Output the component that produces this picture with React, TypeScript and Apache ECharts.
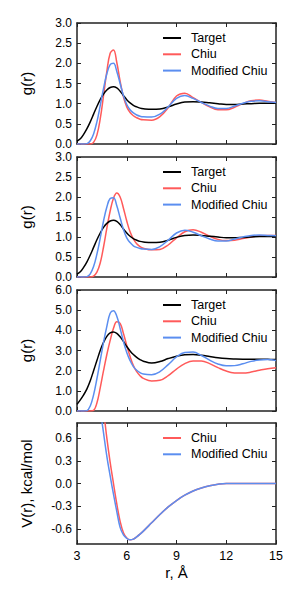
import React, { useEffect, useRef } from "react";
import * as echarts from "echarts";

// r grid for g(r) panels (Å)
const R_G = [3.0, 3.2, 3.4, 3.6, 3.8, 4.0, 4.2, 4.4, 4.6, 4.8, 5.0, 5.2, 5.4, 5.6, 5.8, 6.0, 6.2, 6.4, 6.6, 6.8, 7.0, 7.5, 8.0, 8.5, 9.0, 9.5, 10.0, 10.5, 11.0, 11.5, 12.0, 12.5, 13.0, 13.5, 14.0, 14.5, 15.0];

// Panel 1
const TARGET_1 = [0.07, 0.13, 0.24, 0.38, 0.55, 0.74, 0.93, 1.1, 1.24, 1.34, 1.4, 1.42, 1.39, 1.31, 1.2, 1.1, 1.02, 0.96, 0.92, 0.89, 0.875, 0.86, 0.87, 0.92, 0.99, 1.04, 1.05, 1.04, 1.02, 1.0, 0.98, 0.98, 0.99, 1.0, 1.01, 1.01, 1.01];
const CHIU_1 = [0, 0, 0, 0, 0, 0.04, 0.22, 0.62, 1.2, 1.8, 2.25, 2.33, 2.02, 1.56, 1.17, 0.92, 0.78, 0.7, 0.65, 0.615, 0.6, 0.59, 0.68, 0.9, 1.19, 1.26, 1.15, 1.03, 0.92, 0.85, 0.85, 0.91, 1.0, 1.07, 1.09, 1.06, 1.03];
const MOD_1 = [0, 0, 0, 0.01, 0.08, 0.25, 0.55, 0.95, 1.38, 1.74, 1.97, 2.0, 1.8, 1.5, 1.2, 0.98, 0.85, 0.77, 0.72, 0.69, 0.675, 0.67, 0.74, 0.92, 1.13, 1.2, 1.13, 1.03, 0.94, 0.88, 0.88, 0.94, 1.01, 1.06, 1.07, 1.05, 1.03];

// Panel 2
const TARGET_2 = [0.07, 0.13, 0.24, 0.38, 0.55, 0.74, 0.93, 1.1, 1.24, 1.34, 1.4, 1.42, 1.39, 1.31, 1.2, 1.1, 1.02, 0.96, 0.92, 0.89, 0.875, 0.86, 0.87, 0.92, 0.99, 1.04, 1.05, 1.04, 1.02, 1.0, 0.98, 0.98, 0.99, 1.0, 1.01, 1.01, 1.01];
const CHIU_2 = [0, 0, 0, 0, 0, 0.02, 0.12, 0.35, 0.75, 1.22, 1.65, 1.97, 2.1, 2.0, 1.72, 1.4, 1.13, 0.95, 0.83, 0.76, 0.72, 0.68, 0.69, 0.8, 0.98, 1.13, 1.18, 1.12, 1.02, 0.94, 0.91, 0.92, 0.96, 1.0, 1.03, 1.04, 1.04];
const MOD_2 = [0, 0, 0, 0.01, 0.08, 0.26, 0.57, 0.97, 1.4, 1.75, 1.96, 1.98, 1.78, 1.48, 1.19, 0.98, 0.86, 0.78, 0.74, 0.715, 0.7, 0.69, 0.76, 0.92, 1.1, 1.17, 1.12, 1.03, 0.95, 0.9, 0.9, 0.95, 1.0, 1.04, 1.05, 1.04, 1.03];

// Panel 3
const TARGET_3 = [0.33, 0.55, 0.8, 1.1, 1.5, 2.0, 2.5, 3.0, 3.4, 3.7, 3.87, 3.92, 3.85, 3.68, 3.45, 3.2, 2.98, 2.8, 2.66, 2.55, 2.47, 2.38, 2.45, 2.6, 2.72, 2.79, 2.8, 2.76, 2.7, 2.64, 2.6, 2.58, 2.57, 2.57, 2.57, 2.56, 2.55];
const CHIU_3 = [0, 0, 0, 0, 0, 0.03, 0.4, 1.15, 2.0, 2.8, 3.5, 4.1, 4.43, 4.35, 3.85, 3.25, 2.7, 2.25, 1.95, 1.75, 1.62, 1.49, 1.52, 1.75, 2.08, 2.35, 2.48, 2.48, 2.35, 2.15, 1.98, 1.89, 1.88, 1.93, 2.02, 2.1, 2.15];
const MOD_3 = [0, 0, 0, 0.02, 0.25, 0.8, 1.6, 2.5, 3.4, 4.2, 4.85, 4.97, 4.7, 4.1, 3.45, 2.9, 2.5, 2.2, 2.02, 1.9, 1.83, 1.8, 1.95, 2.3, 2.68, 2.9, 2.92, 2.75, 2.52, 2.33, 2.24, 2.25, 2.34, 2.46, 2.53, 2.55, 2.5];

// Panel 4: potentials V(r), kcal/mol
const R_V = [4.2, 4.4, 4.6, 4.8, 5.0, 5.2, 5.4, 5.6, 5.8, 6.0, 6.2, 6.4, 6.6, 6.8, 7.0, 7.5, 8.0, 8.5, 9.0, 9.5, 10.0, 10.5, 11.0, 11.5, 12.0, 12.5, 13.0, 13.5, 14.0, 14.5, 15.0];
const CHIU_V = [3.0, 1.4, 0.98, 0.6, 0.28, 0.0, -0.27, -0.5, -0.65, -0.72, -0.745, -0.735, -0.705, -0.67, -0.63, -0.52, -0.41, -0.31, -0.225, -0.155, -0.1, -0.06, -0.03, -0.01, 0, 0, 0, 0, 0, 0, 0];
const MOD_V = [1.6, 1.0, 0.67, 0.36, 0.1, -0.14, -0.37, -0.58, -0.68, -0.725, -0.745, -0.735, -0.705, -0.67, -0.63, -0.52, -0.41, -0.31, -0.225, -0.155, -0.1, -0.06, -0.03, -0.01, 0, 0, 0, 0, 0, 0, 0];

const X_TICKS = [3, 6, 9, 12, 15];
const V_TICKS = [-0.6, -0.3, 0.0, 0.3, 0.6];

const COLORS: Record<string, string> = { Target: "#000000", Chiu: "#ff5a5a", "Modified Chiu": "#5b8ef0" };

const FONT = "Liberation Sans";

export default function App() {
  const ref = useRef<HTMLDivElement>(null);
  useEffect(() => {
    if (!ref.current) return;
    const chart = echarts.init(ref.current, null, { renderer: "svg" });

    const panels = [
      { top: 23, h: 121, ymin: 0, ymax: 3, interval: 0.5, name: "g(r)", series: [[TARGET_1, "Target"], [CHIU_1, "Chiu"], [MOD_1, "Modified Chiu"]] },
      { top: 157, h: 120, ymin: 0, ymax: 3, interval: 0.5, name: "g(r)", series: [[TARGET_2, "Target"], [CHIU_2, "Chiu"], [MOD_2, "Modified Chiu"]] },
      { top: 290, h: 121, ymin: 0, ymax: 6, interval: 1, name: "g(r)", series: [[TARGET_3, "Target"], [CHIU_3, "Chiu"], [MOD_3, "Modified Chiu"]] },
      { top: 423, h: 121, ymin: -0.8, ymax: 0.8, interval: 0, name: "V(r), kcal/mol", series: [[CHIU_V, "Chiu"], [MOD_V, "Modified Chiu"]] },
    ];

    const frame = { show: true, onZero: false, lineStyle: { color: "#222", width: 1.5 } };
    const tick = { show: true, inside: true, length: 4, lineStyle: { color: "#222", width: 1 } };
    const labelStyle = { color: "#000", fontSize: 12, fontFamily: FONT };

    const grid: any[] = [];
    const xAxis: any[] = [];
    const yAxis: any[] = [];
    const series: any[] = [];
    const legend: any[] = [];

    panels.forEach((p, i) => {
      grid.push({ left: 77, width: 199, top: p.top, height: p.h });
      const last = i === panels.length - 1;
      const xBase = {
        type: "value", gridIndex: i, min: X_TICKS[0], max: X_TICKS[X_TICKS.length - 1], interval: 3,
        axisLine: frame, axisTick: tick, splitLine: { show: false },
      };
      xAxis.push({
        ...xBase, position: "bottom",
        axisLabel: { show: last, ...labelStyle, fontSize: 12.5, margin: 5, showMinLabel: true, showMaxLabel: true },
        name: last ? "r, Å" : "", nameLocation: "middle", nameGap: 21,
        nameTextStyle: { color: "#000", fontSize: 15, fontFamily: FONT },
      });
      xAxis.push({ ...xBase, position: "top", axisLabel: { show: false } });

      const isV = p.interval === 0;
      const yBase: any = {
        type: "value", gridIndex: i, min: p.ymin, max: p.ymax,
        axisLine: frame, splitLine: { show: false },
      };
      if (!isV) yBase.interval = p.interval;
      const yTick: any = isV ? { ...tick, customValues: V_TICKS } : tick;
      yAxis.push({
        ...yBase, position: "left", axisTick: yTick,
        axisLabel: {
          ...labelStyle, margin: 5, lineHeight: 10, showMinLabel: true, showMaxLabel: true,
          formatter: (v: number) => v.toFixed(1),
          ...(isV ? { customValues: V_TICKS } : {}),
        },
        name: p.name, nameLocation: "middle", nameGap: 43,
        nameTextStyle: { color: "#000", fontSize: 15, fontFamily: FONT },
      });
      yAxis.push({ ...yBase, position: "right", axisTick: yTick, axisLabel: { show: false } });

      p.series.forEach(([vals, name]) => {
        const xs = isV ? R_V : R_G;
        series.push({
          type: "line", name, xAxisIndex: 2 * i, yAxisIndex: 2 * i,
          data: xs.map((x, k) => [x, (vals as number[])[k]]),
          smooth: 0.4, showSymbol: false, symbol: "none", clip: true,
          lineStyle: { color: COLORS[name as string], width: 1.5 },
          itemStyle: { color: COLORS[name as string] },
          z: name === "Target" ? 3 : name === "Chiu" ? 2 : 4,
        });
      });

      legend.push({
        left: 163, top: p.top + 7, orient: "vertical", padding: 0, itemGap: 0.3,
        icon: "rect", itemWidth: 18, itemHeight: 2,
        data: p.series.map((s) => s[1] as string),
        textStyle: { color: "#000", fontSize: 12.5, fontFamily: FONT, lineHeight: 16, padding: [0, 0, 0, 5] },
        selectedMode: false,
      });
    });

    chart.setOption({
      animation: false,
      textStyle: { fontFamily: FONT },
      grid, xAxis, yAxis, series, legend,
    });
    return () => chart.dispose();
  }, []);

  return <div ref={ref} style={{ position: "absolute", left: 0, top: 0, width: 300, height: 600, background: "#fff" }} />;
}
